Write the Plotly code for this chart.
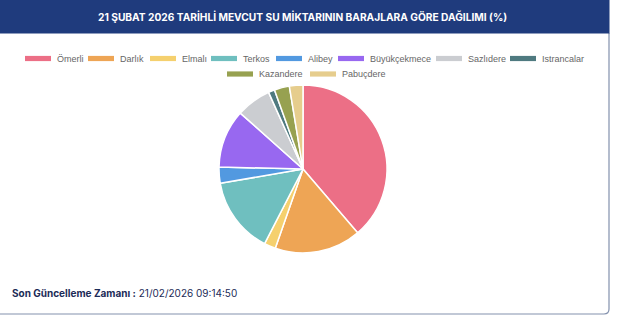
import plotly.graph_objects as go

# ---- data ----
labels = ["Ömerli", "Darlık", "Elmalı", "Terkos", "Alibey", "Büyükçekmece",
          "Sazlıdere", "Istrancalar", "Kazandere", "Pabuçdere"]
values = [38.7, 16.6, 2.2, 14.7, 3.1, 11.2, 6.7, 1.2, 2.9, 2.6]
colors = ["#ec6f86", "#eea555", "#f5d06e", "#6fbfbf", "#5299e0", "#9868f0",
          "#cbcdd1", "#4f7a80", "#97a150", "#e6cd8d"]
title_text = "21 ŞUBAT 2026 TARİHLİ MEVCUT SU MİKTARININ BARAJLARA GÖRE DAĞILIMI (%)"
footer_label = "Son Güncelleme Zamanı :"
footer_time = "21/02/2026 09:14:50"

# ---- layout helpers (pixel -> paper) ----
W, H = 640, 319
def px(x): return x / W
def py(y): return 1 - y / H

# legend layout (row, box left x)
legend_rows = [0, 0, 0, 0, 0, 0, 0, 0, 1, 1]
legend_x = [25, 88, 150, 211, 276, 338, 436, 510, 227, 310]
row_y = [58.5, 74.0]

fig = go.Figure()
fig.add_trace(go.Pie(
    labels=labels, values=values, sort=False, direction="clockwise", rotation=0,
    marker=dict(colors=colors, line=dict(color="white", width=1.5)),
    textinfo="none", hoverinfo="label+value", showlegend=False,
    domain=dict(x=[px(219), px(387)], y=[py(253), py(85)]),
))

shapes = []
annotations = []
# card border with rounded bottom-right corner
r = 5
cx, cb = 609, 314
path = (f"M {px(cx)},{py(33)} L {px(cx)},{py(cb - r)} "
        f"Q {px(cx)},{py(cb)} {px(cx - r)},{py(cb)} L {px(-5)},{py(cb)}")
shapes.append(dict(type="path", xref="paper", yref="paper", path=path,
                   line=dict(color="#8391ad", width=1.2), layer="below"))
# header band
shapes.append(dict(type="rect", xref="paper", yref="paper",
                   x0=px(-2), x1=px(609.5), y0=py(33.5), y1=py(-2),
                   fillcolor="#1f3b7d", line=dict(width=0), layer="below"))
annotations.append(dict(text=f"<b>{title_text}</b>", xref="paper", yref="paper",
                        x=px(302), y=py(16.5), showarrow=False, xanchor="center",
                        yanchor="middle", font=dict(family="Inter", size=10.2, color="white")))

# legend
for lab, col, rw, lx in zip(labels, colors, legend_rows, legend_x):
    yc = row_y[rw]
    shapes.append(dict(type="rect", xref="paper", yref="paper",
                       x0=px(lx), x1=px(lx + 26), y0=py(yc + 2.6), y1=py(yc - 2.6),
                       fillcolor=col, line=dict(width=0)))
    annotations.append(dict(text=lab, xref="paper", yref="paper", x=px(lx + 30), y=py(yc),
                            showarrow=False, xanchor="left", yanchor="middle",
                            font=dict(family="Liberation Sans", size=9, color="#666666")))

# footer
annotations.append(dict(text=f"<b>{footer_label}</b> {footer_time}", xref="paper", yref="paper",
                        x=px(10), y=py(293), showarrow=False, xanchor="left", yanchor="middle",
                        font=dict(family="Inter", size=10, color="#1c2b57")))

fig.update_layout(
    width=W, height=H, margin=dict(l=0, r=0, t=0, b=0),
    paper_bgcolor="white", plot_bgcolor="white",
    shapes=shapes, annotations=annotations, showlegend=False,
)
fig.write_html("out.html")
